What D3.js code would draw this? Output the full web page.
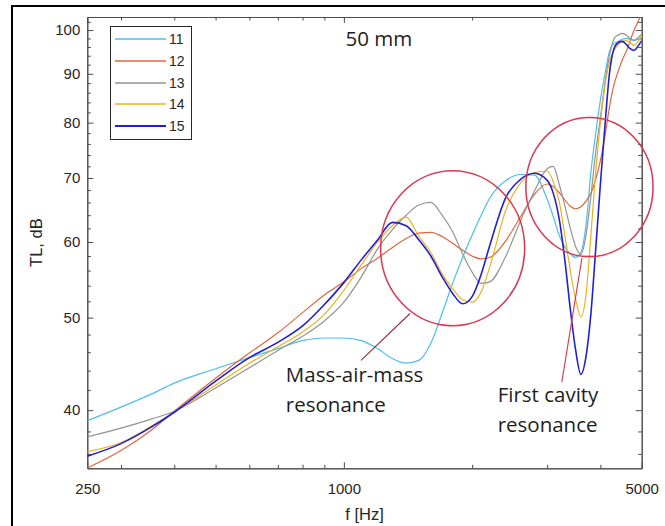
<!DOCTYPE html>
<html>
<head>
<meta charset="utf-8">
<script src="https://cdn.jsdelivr.net/npm/d3@7"></script>
<style>
  body { margin: 0; background: #fff; }
  svg { display: block; }
  .axis text { font-family: Arial, "Liberation Sans", sans-serif; font-size: 15px; fill: #262626; }
  .axis path, .axis line { stroke: #4a4a4a; }
  .note { font-family: "Open Sans", sans-serif; font-size: 20.5px; fill: #1e1e1e; }
</style>
</head>
<body>
<script>
//** Frequencies (Hz) shared by every curve
var freqs = [250, 300, 350, 400, 500, 600, 700, 800, 900, 1000,
  1100, 1200, 1300, 1400, 1500, 1600, 1700, 1800, 1900, 2000, 2100, 2200,
  2400, 2600, 2800,
  3000, 3100, 3200, 3300, 3400, 3500, 3600, 3700, 3800, 3900, 4000,
  4100, 4200, 4300, 4400, 4500, 4600, 4700, 4800, 4900, 5000];

//** TL (dB) for each series
var tl11 = [39.0, 40.3, 41.5, 42.7, 44.2, 45.4, 46.4, 47.3, 47.6, 47.6,
  47.3, 46.4, 45.3, 44.8, 45.1, 47.0, 50.5, 54.3, 57.8, 61.0, 64.0, 66.7,
  69.6, 70.6, 70.5,
  66.5, 63.8, 61.0, 59.3, 58.3, 57.8, 58.5, 62.5, 71.0, 78.0, 84.5,
  90.0, 95.0, 96.8, 97.3, 97.8, 98.0, 97.8, 97.5, 97.8, 98.3];
var tl12 = [34.8, 36.3, 38.0, 39.9, 43.2, 45.9, 48.2, 50.6, 52.8, 54.5,
  56.3, 57.7, 59.2, 60.5, 61.3, 61.4, 60.8, 59.8, 58.8, 58.0, 57.6, 57.8,
  60.2, 63.8, 67.3,
  69.0, 68.6, 67.6, 66.4, 65.4, 65.0, 65.3, 66.2, 67.5, 69.8, 73.0,
  77.5, 83.0, 87.5, 90.5, 93.0, 95.0, 97.5, 100.0, 102.0, 104.0];
var tl13 = [37.5, 38.3, 39.1, 39.9, 42.2, 44.3, 46.2, 47.8, 49.6, 51.9,
  55.2, 59.0, 61.8, 64.0, 65.6, 66.0, 64.0, 61.5, 58.3, 55.8, 54.3, 54.5,
  58.0, 63.2, 67.8,
  71.6, 72.0, 69.0, 65.5, 62.0, 59.3, 58.2, 61.0, 67.0, 74.5, 81.0,
  88.0, 94.0, 97.8, 98.8, 99.2, 98.8, 98.0, 97.6, 98.2, 99.0];
var tl14 = [36.2, 37.0, 38.4, 39.8, 42.5, 44.8, 46.6, 48.3, 50.4, 53.4,
  56.8, 60.0, 62.4, 63.7, 60.8, 58.5, 55.6, 53.6, 52.2, 51.9, 53.2, 56.5,
  64.8, 69.2, 70.9,
  71.2, 69.4, 66.2, 61.0, 56.0, 52.2, 50.1, 52.8, 61.0, 71.0, 80.0,
  87.5, 92.5, 95.2, 96.5, 97.3, 97.5, 97.0, 96.3, 97.2, 98.7];
var tl15 = [35.8, 36.9, 38.3, 39.8, 42.9, 45.4, 47.1, 49.0, 51.6, 54.4,
  57.5, 60.3, 62.9, 62.4, 60.3, 58.0, 55.2, 53.0, 51.7, 52.6, 55.5, 59.5,
  66.8, 69.8, 70.8,
  69.6, 67.5, 63.5, 57.5, 51.0, 46.2, 43.6, 45.5, 50.5, 59.0, 69.0,
  79.5, 90.0, 95.5, 97.0, 97.3, 96.6, 95.6, 95.2, 96.2, 97.5];

var seriesNames = ['11', '12', '13', '14', '15'];
var seriesColors = ['#4dbeee', '#e2663a', '#939393', '#edb120', '#1f1fd6'];
var seriesWidths = [1.2, 1.2, 1.2, 1.2, 1.6];

//** Tick values
var xMajor = [250, 1000, 5000];
var xMinor = [300, 400, 500, 600, 700, 800, 900, 2000, 3000, 4000];
var yMajor = [40, 50, 60, 70, 80, 90, 100];
var yMinor = [36, 38, 42, 44, 46, 48, 52, 54, 56, 58, 62, 64, 66, 68,
  72, 74, 76, 78, 82, 84, 86, 88, 92, 94, 96, 98, 102];

//** Annotations in data units (circle radii in px)
var rings = [
  {f: 1800, tl: 59.1, rx: 72, ry: 77.5},
  {f: 3770, tl: 68.5, rx: 63.6, ry: 69.6}
];
var pointers = [
  {f1: 1097, tl1: 45.1, f2: 1430, tl2: 50.5, color: '#9a2b35'},
  {f1: 3247, tl1: 42.8, f2: 3620, tl2: 57.7, color: '#d8344e'}
];
var notes = [
  {f: 731, tl: 42.8, lines: ['Mass-air-mass', 'resonance']},
  {f: 2296, tl: 40.8, lines: ['First cavity', 'resonance']}
];

var plot = {left: 87.3, right: 641.7, top: 17, bottom: 468.3};

var svg = d3.select('body').append('svg')
  .attr('width', 665)
  .attr('height', 526);

var x = d3.scaleLog().domain([250, 5000]).range([plot.left, plot.right]);
var y = d3.scaleLog().domain([34.77, 103.2]).range([plot.bottom, plot.top]);

//** Outer frame
svg.append('rect')
  .attr('x', 12).attr('y', 6)
  .attr('width', 700).attr('height', 600)
  .attr('fill', 'none')
  .attr('stroke', '#000')
  .attr('stroke-width', 2);

svg.append('clipPath').attr('id', 'plotClip')
  .append('rect')
  .attr('x', plot.left).attr('y', plot.top)
  .attr('width', plot.right - plot.left)
  .attr('height', plot.bottom - plot.top);

//** Axes (ticks pointing inwards, box on)
var fmt = d3.format('d');
svg.append('g').attr('class', 'axis')
  .attr('transform', 'translate(0,' + plot.bottom + ')')
  .call(d3.axisBottom(x).tickValues(xMajor).tickFormat(fmt)
    .tickSizeInner(-6).tickSizeOuter(0).tickPadding(15));
svg.append('g').attr('class', 'axis')
  .attr('transform', 'translate(0,' + plot.bottom + ')')
  .call(d3.axisBottom(x).tickValues(xMinor).tickFormat('')
    .tickSizeInner(-3.5).tickSizeOuter(0));
svg.append('g').attr('class', 'axis')
  .attr('transform', 'translate(0,' + plot.top + ')')
  .call(d3.axisTop(x).tickValues(xMajor).tickFormat('')
    .tickSizeInner(-6).tickSizeOuter(0));
svg.append('g').attr('class', 'axis')
  .attr('transform', 'translate(0,' + plot.top + ')')
  .call(d3.axisTop(x).tickValues(xMinor).tickFormat('')
    .tickSizeInner(-3.5).tickSizeOuter(0));

svg.append('g').attr('class', 'axis')
  .attr('transform', 'translate(' + plot.left + ',0)')
  .call(d3.axisLeft(y).tickValues(yMajor).tickFormat(fmt)
    .tickSizeInner(-6).tickSizeOuter(0).tickPadding(7));
svg.append('g').attr('class', 'axis')
  .attr('transform', 'translate(' + plot.left + ',0)')
  .call(d3.axisLeft(y).tickValues(yMinor).tickFormat('')
    .tickSizeInner(-3.5).tickSizeOuter(0));
svg.append('g').attr('class', 'axis')
  .attr('transform', 'translate(' + plot.right + ',0)')
  .call(d3.axisRight(y).tickValues(yMajor).tickFormat('')
    .tickSizeInner(-6).tickSizeOuter(0));
svg.append('g').attr('class', 'axis')
  .attr('transform', 'translate(' + plot.right + ',0)')
  .call(d3.axisRight(y).tickValues(yMinor).tickFormat('')
    .tickSizeInner(-3.5).tickSizeOuter(0));

//** Axis labels
svg.append('text')
  .attr('x', (plot.left + plot.right) / 2).attr('y', 520)
  .attr('text-anchor', 'middle')
  .style('font-family', 'Arial, "Liberation Sans", sans-serif')
  .style('font-size', '16.5px').style('fill', '#262626')
  .text('f [Hz]');
svg.append('text')
  .attr('transform', 'translate(42,' + ((plot.top + plot.bottom) / 2) + ') rotate(-90)')
  .attr('text-anchor', 'middle')
  .style('font-family', 'Arial, "Liberation Sans", sans-serif')
  .style('font-size', '16.5px').style('fill', '#262626')
  .text('TL, dB');

//** Curves
var allSeries = [tl11, tl12, tl13, tl14, tl15].map(function(vals, i){
  return {name: seriesNames[i], color: seriesColors[i], width: seriesWidths[i],
    points: freqs.map(function(f, j){ return [f, vals[j]]; })};
});

var line = d3.line()
  .x(function(d){ return x(d[0]); })
  .y(function(d){ return y(d[1]); })
  .curve(d3.curveMonotoneX);

svg.append('g').attr('clip-path', 'url(#plotClip)')
  .selectAll('path')
  .data(allSeries)
  .enter().append('path')
  .attr('d', function(d){ return line(d.points); })
  .attr('fill', 'none')
  .attr('stroke', function(d){ return d.color; })
  .attr('stroke-width', function(d){ return d.width; });

//** Legend
var legend = svg.append('g');
legend.append('rect')
  .attr('x', 110.5).attr('y', 26.5)
  .attr('width', 81).attr('height', 113)
  .attr('fill', '#fff')
  .attr('stroke', '#262626')
  .attr('stroke-width', 1);
var item = legend.selectAll('g.item')
  .data(allSeries)
  .enter().append('g')
  .attr('class', 'item')
  .attr('transform', function(d, i){ return 'translate(0,' + Math.round(39 + i * 21.8) + ')'; });
item.append('line')
  .attr('x1', 115).attr('x2', 166)
  .attr('stroke', function(d){ return d.color; })
  .attr('stroke-width', function(d){ return d.width + 0.3; });
item.append('text')
  .attr('x', 169).attr('dy', '0.35em')
  .style('font-family', 'Arial, "Liberation Sans", sans-serif')
  .style('font-size', '14px').style('fill', '#262626')
  .text(function(d){ return d.name; });

//** Title
svg.append('text').attr('class', 'note')
  .attr('x', x(1209)).attr('y', y(96.3))
  .attr('text-anchor', 'middle')
  .text('50 mm');

//** Annotation circles and pointers
svg.selectAll('ellipse')
  .data(rings)
  .enter().append('ellipse')
  .attr('cx', function(d){ return x(d.f); })
  .attr('cy', function(d){ return y(d.tl); })
  .attr('rx', function(d){ return d.rx; })
  .attr('ry', function(d){ return d.ry; })
  .attr('fill', 'none')
  .attr('stroke', '#dc3650')
  .attr('stroke-width', 1.5);

svg.selectAll('line.pointer')
  .data(pointers)
  .enter().append('line')
  .attr('class', 'pointer')
  .attr('x1', function(d){ return x(d.f1); })
  .attr('y1', function(d){ return y(d.tl1); })
  .attr('x2', function(d){ return x(d.f2); })
  .attr('y2', function(d){ return y(d.tl2); })
  .attr('stroke', function(d){ return d.color; })
  .attr('stroke-width', 1.1);

notes.forEach(function(n){
  var t = svg.append('text').attr('class', 'note')
    .attr('x', x(n.f)).attr('y', y(n.tl));
  n.lines.forEach(function(s, i){
    t.append('tspan').attr('x', x(n.f)).attr('dy', i === 0 ? 0 : 30).text(s);
  });
});
</script>
</body>
</html>
